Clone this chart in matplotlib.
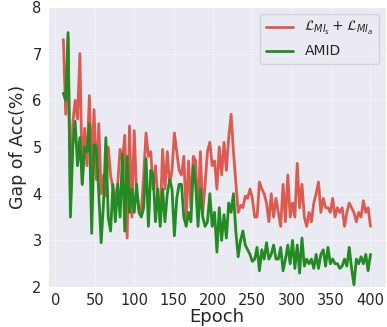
import numpy as np
import matplotlib
matplotlib.use("Agg")
import matplotlib.pyplot as plt
import seaborn as sns

# Epochs sampled every 3 epochs from 10 to 400
epochs = np.arange(10, 401, 3)

# Gap of accuracy (%)
mi_gap = [7.3, 5.7, 7.35, 3.75, 5.5, 6.0, 5.6, 7.0, 4.2, 5.4,
          4.6, 6.1, 4.5, 5.8, 4.3, 5.5, 4.0, 4.4, 3.95, 5.0,
          4.4, 4.1, 3.9, 4.2, 4.95, 4.7, 5.25, 3.05, 5.45, 3.5,
          5.35, 4.0, 3.7, 3.6, 4.4, 5.3, 4.8, 4.9, 4.1, 4.6,
          3.9, 3.4, 4.95, 4.1, 4.9, 4.2, 4.5, 5.3, 4.9, 4.5,
          4.4, 4.8, 3.5, 4.7, 3.7, 4.8, 4.7, 3.5, 4.9, 3.6,
          4.2, 4.9, 5.1, 4.6, 4.7, 4.1, 5.0, 4.4, 5.1, 4.5,
          5.2, 5.7, 4.9, 4.25, 3.6, 3.75, 3.7, 3.95, 3.9, 4.1,
          3.9, 3.5, 3.5, 4.25, 4.1, 4.0, 3.8, 3.4, 4.0, 3.5,
          3.9, 3.6, 3.3, 4.2, 3.4, 4.4, 3.5, 3.8, 3.5, 4.65,
          3.7, 4.2, 3.5, 3.3, 3.6, 3.4, 3.8, 4.0, 4.25, 3.6,
          3.9, 3.7, 3.7, 3.6, 3.9, 3.5, 3.7, 3.6, 3.7, 3.3,
          3.6, 3.8, 3.7, 3.6, 3.4, 3.6, 3.5, 3.85, 3.6, 3.7,
          3.3]

amid_gap = [6.15, 6.0, 7.45, 3.5, 5.0, 5.55, 4.6, 5.2, 4.2, 5.0,
            4.9, 5.5, 3.15, 5.05, 5.0, 4.0, 2.95, 3.8, 5.2, 3.5,
            3.2, 4.2, 3.4, 4.2, 3.5, 4.85, 3.2, 4.8, 3.6, 4.1,
            3.6, 4.2, 3.6, 3.5, 3.7, 4.75, 3.3, 4.5, 4.4, 3.4,
            4.1, 3.3, 4.1, 3.4, 4.0, 4.3, 4.1, 3.1, 3.9, 4.2,
            4.2, 3.5, 3.3, 3.6, 3.4, 4.6, 4.2, 3.3, 4.1, 3.5,
            3.3, 3.4, 4.0, 3.3, 3.6, 2.75, 3.7, 3.0, 3.55, 3.05,
            3.8, 3.6, 4.0, 3.2, 2.65, 3.0, 3.2, 2.9, 2.8, 2.7,
            2.55, 2.6, 2.85, 2.35, 2.8, 2.6, 2.95, 2.6, 2.7, 2.9,
            2.6, 2.6, 2.85, 2.35, 2.6, 2.9, 2.5, 3.0, 2.4, 2.9,
            2.3, 3.05, 2.45, 2.6, 2.5, 2.6, 2.4, 2.7, 2.4, 2.7,
            2.8, 2.45, 2.85, 2.5, 2.6, 2.5, 2.5, 2.4, 2.45, 2.6,
            2.45, 2.85, 2.4, 2.05, 2.6, 2.5, 2.65, 2.5, 2.7, 2.35,
            2.7]

sns.set_style("darkgrid", {"grid.linestyle": ":"})

fig = plt.figure(figsize=(3.87, 3.27), dpi=100)
ax = fig.add_axes([0.124, 0.122, 0.873, 0.857])

ax.plot(epochs, mi_gap, color="#dc5a50", lw=2,
        label=r"$\mathcal{L}_{MI_s}+\mathcal{L}_{MI_a}$")
ax.plot(epochs, amid_gap, color="#228b22", lw=2, label="AMID")

ax.set_ylim(2, 8)
ax.set_xticks([0, 50, 100, 150, 200, 250, 300, 350, 400])
ax.tick_params(labelsize=10.5, pad=1)
ax.set_xlabel("Epoch", fontsize=13, labelpad=0)
ax.set_ylabel("Gap of Acc(%)", fontsize=12.5, labelpad=4)
ax.legend(loc="upper right", fontsize=10)

fig.savefig("out.png", dpi=100)
